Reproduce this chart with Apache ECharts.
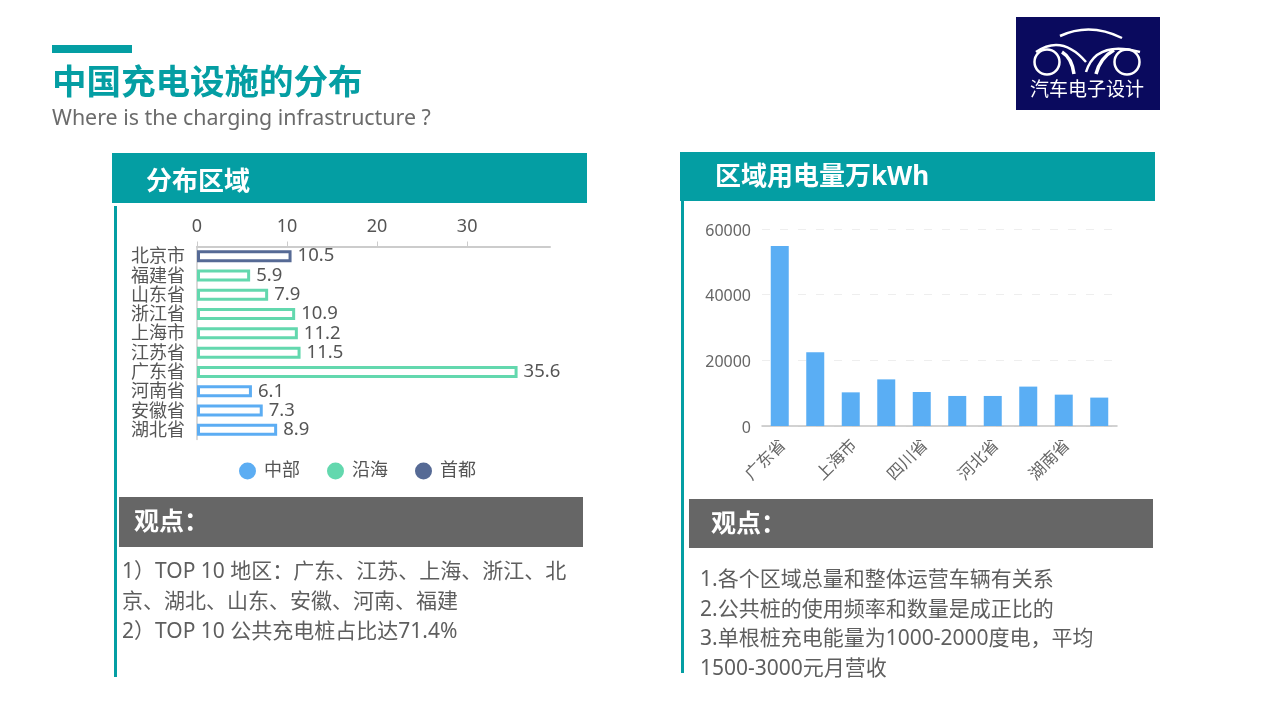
<!DOCTYPE html>
<html>
<head>
<meta charset="utf-8">
<title>中国充电设施的分布</title>
<script src="https://cdn.jsdelivr.net/npm/echarts@6/dist/echarts.min.js"></script>
<style>
  html, body { margin: 0; padding: 0; background: #fff; }
  #main { width: 1280px; height: 720px; }
</style>
</head>
<body>
<div id="main"></div>
<script>
// left chart: charging piles share by region (%)
const regions = ['北京市', '福建省', '山东省', '浙江省', '上海市', '江苏省', '广东省', '河南省', '安徽省', '湖北省'];
const capitalValues = [10.5, null, null, null, null, null, null, null, null, null];
const coastalValues = [null, 5.9, 7.9, 10.9, 11.2, 11.5, 35.6, null, null, null];
const centralValues = [null, null, null, null, null, null, null, 6.1, 7.3, 8.9];

// right chart: usage, every other label is hidden in the picture so those stay blank
const usageRegions = ['广东省', '', '上海市', '', '四川省', '', '河北省', '', '湖南省', ''];
const usageValues = [54800, 22500, 10250, 14200, 10350, 9150, 9150, 12000, 9550, 8650];

const leftNotes = [
  '1）TOP 10 地区：广东、江苏、上海、浙江、北',
  '京、湖北、山东、安徽、河南、福建',
  '2）TOP 10 公共充电桩占比达71.4%'
];
const rightNotes = [
  '1.各个区域总量和整体运营车辆有关系',
  '2.公共桩的使用频率和数量是成正比的',
  '3.单根桩充电能量为1000-2000度电，平均',
  '1500-3000元月营收'
];

const TEAL = '#049ea3';
const BLUE = '#5cadf3';
const GREEN = '#63d8ae';
const NAVY = '#566a95';
const FONT = '"Noto Sans", "Noto Sans CJK SC", sans-serif';

const rect = (x, y, w, h, fill) => ({ type: 'rect', shape: { x, y, width: w, height: h }, style: { fill } });
const label = (x, y, text, size, fill, weight) => ({
  type: 'text', x, y,
  style: { text, fill, font: `${weight || 'normal'} ${size}px ${FONT}`, textVerticalAlign: 'middle' }
});
// logo strokes, quadratic curves
const curve = (x1, y1, cpx1, cpy1, x2, y2, lineWidth) => ({
  type: 'bezierCurve', shape: { x1, y1, cpx1, cpy1, x2, y2 },
  style: { fill: 'none', stroke: '#fff', lineWidth }
});

const decorations = [
  rect(52, 45, 80, 8, TEAL),
  label(52, 84, '中国充电设施的分布', 34.5, TEAL, 'bold'),
  label(52, 119, 'Where is the charging infrastructure ?', 21.4, '#6b6b6b'),

  rect(112, 153, 475, 50, TEAL),
  label(146, 183, '分布区域', 26, '#fff', 'bold'),
  rect(114, 206, 3, 471, TEAL),
  rect(119, 497, 464, 50, '#666666'),
  label(134, 523, '观点：', 25, '#fff', 'bold'),

  rect(680, 152, 475, 49, TEAL),
  label(715, 178, '区域用电量万kWh', 26, '#fff', 'bold'),
  rect(681, 201, 3, 472, TEAL),
  rect(689, 499, 464, 49, '#666666'),
  label(711, 525, '观点：', 25, '#fff', 'bold'),

  // logo
  rect(1016, 17, 144, 93, '#0a0a5e'),
  { type: 'circle', shape: { cx: 1047, cy: 62, r: 12.5 }, style: { fill: 'none', stroke: '#fff', lineWidth: 2.5 } },
  { type: 'circle', shape: { cx: 1127, cy: 62, r: 12.5 }, style: { fill: 'none', stroke: '#fff', lineWidth: 2.5 } },
  curve(1060, 36, 1090, 22, 1122, 38, 2.5),
  curve(1036, 52, 1062, 34, 1086, 62, 2.5),
  curve(1062, 52, 1072, 58, 1074, 74, 3.5),
  curve(1086, 72, 1096, 40, 1140, 52, 2.5),
  curve(1096, 74, 1100, 58, 1114, 50, 3.5),
  label(1030, 91, '汽车电子设计', 19, '#fff')
];
leftNotes.forEach((t, i) => decorations.push(label(122, 572 + i * 30, t, 21, '#5e5e5e')));
rightNotes.forEach((t, i) => decorations.push(label(700, 580 + i * 29.7, t, 21, '#5e5e5e')));

const barSeries = (name, data, color) => ({
  name, type: 'bar', stack: 'share', data, barWidth: 12,
  itemStyle: { color: '#fff', borderColor: color, borderWidth: 3 },
  label: { show: true, position: 'right', distance: 6, fontSize: 18.5, color: '#555', fontFamily: FONT },
  xAxisIndex: 0, yAxisIndex: 0
});
const legendItem = (name, color) => ({ name, itemStyle: { color, borderWidth: 0 } });

const chart = echarts.init(document.getElementById('main'), null, { renderer: 'canvas' });
chart.setOption({
  animation: false,
  textStyle: { fontFamily: FONT },
  graphic: { elements: decorations },
  legend: {
    data: [legendItem('中部', BLUE), legendItem('沿海', GREEN), legendItem('首都', NAVY)],
    left: 234, top: 457,
    icon: 'circle', itemWidth: 17, itemHeight: 17, itemGap: 27,
    textStyle: { fontSize: 18, color: '#555', fontFamily: FONT, padding: [0, 0, 0, 3] }
  },
  grid: [
    { left: 197, top: 246.5, width: 353, height: 193 },
    { left: 762, top: 229, width: 355, height: 197 }
  ],
  xAxis: [
    {
      gridIndex: 0, type: 'value', position: 'top', min: 0, max: 39.2, interval: 10,
      axisLine: { show: true, lineStyle: { color: '#ccc', width: 2 } },
      axisTick: { show: true, length: 5, lineStyle: { color: '#ccc' }, customValues: [0, 10, 20, 30] },
      axisLabel: { fontSize: 18, color: '#555', margin: 11, customValues: [0, 10, 20, 30] },
      splitLine: { show: false }
    },
    {
      gridIndex: 1, type: 'category', data: usageRegions,
      axisLine: { lineStyle: { color: '#c4c4c4', width: 1.5 } },
      axisTick: { alignWithLabel: true, interval: 1, length: 5, lineStyle: { color: '#c4c4c4' } },
      axisLabel: { interval: 1, rotate: 45, fontSize: 16.5, color: '#666', margin: 13, verticalAlign: 'top', padding: [-3, 0, 0, 0] }
    }
  ],
  yAxis: [
    {
      gridIndex: 0, type: 'category', inverse: true, data: regions,
      axisLine: { lineStyle: { color: '#ccc', width: 1.5 } },
      axisTick: { length: 6, alignWithLabel: true, lineStyle: { color: '#ccc' } },
      axisLabel: { fontSize: 18, color: '#555', margin: 12, interval: 0, lineHeight: 18, verticalAlign: 'top', padding: [-8, 0, 0, 0] }
    },
    {
      gridIndex: 1, type: 'value', min: 0, max: 60000, interval: 20000,
      axisLine: { show: false }, axisTick: { show: false },
      axisLabel: { fontSize: 16, color: '#666', margin: 11, verticalAlign: 'top', padding: [-6, 0, 0, 0], formatter: v => String(v) },
      splitLine: { lineStyle: { color: '#eeeeee', type: [8, 10] } }
    }
  ],
  series: [
    barSeries('中部', centralValues, BLUE),
    barSeries('沿海', coastalValues, GREEN),
    barSeries('首都', capitalValues, NAVY),
    {
      name: '用电量', type: 'bar', xAxisIndex: 1, yAxisIndex: 1, data: usageValues,
      barWidth: 18, itemStyle: { color: '#5aaef4' }
    }
  ]
});
</script>
</body>
</html>
